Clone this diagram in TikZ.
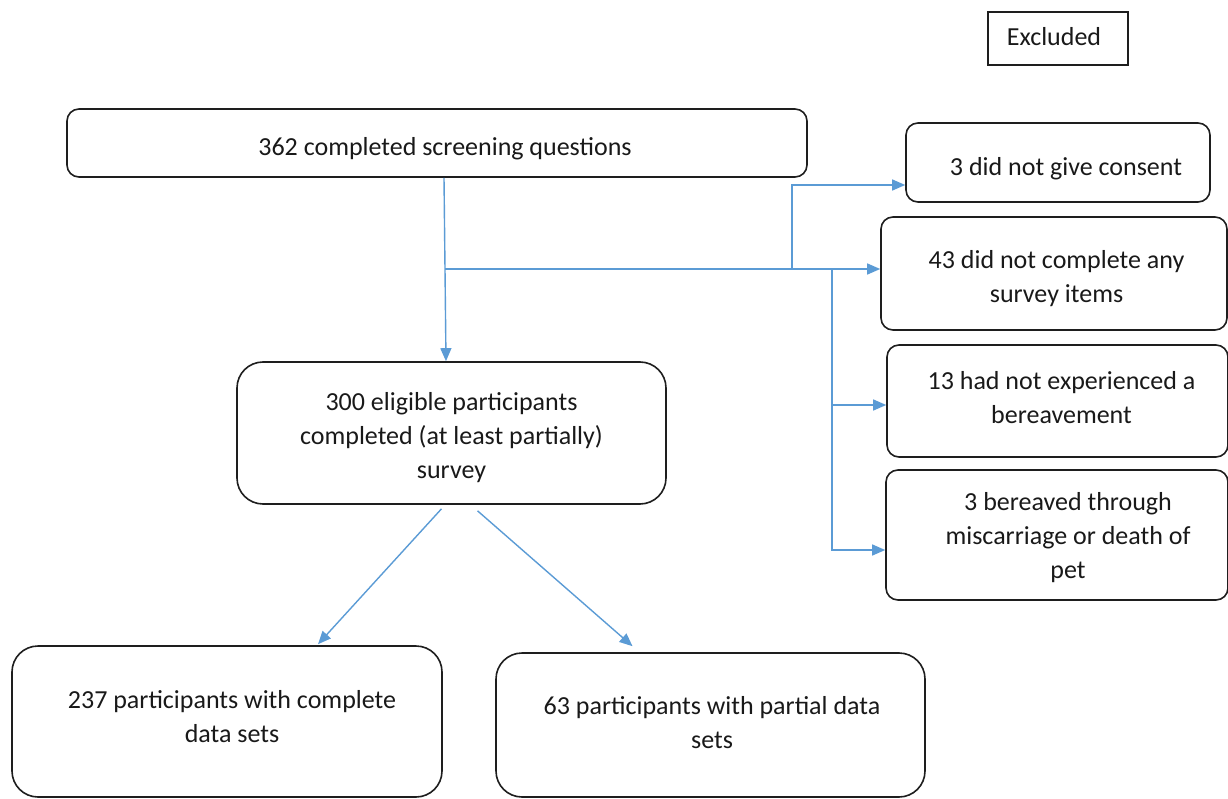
\documentclass[tikz,border=0pt]{standalone}
\usepackage{fontspec}
\setmainfont{Carlito}
\usetikzlibrary{arrows.meta,calc}
\definecolor{linkblue}{RGB}{91,155,213}
\definecolor{boxline}{RGB}{30,30,30}
\begin{document}
\begin{tikzpicture}[x=1pt,y=-1pt,
  rbox/.style={draw=boxline, line width=1.6pt, rounded corners=12pt, inner sep=0pt},
  bigbox/.style={rbox, rounded corners=26pt},
  sqbox/.style={draw=boxline, line width=1.3pt, inner sep=0pt},
  txt/.style={align=center, font=\fontsize{26}{34}\selectfont, inner sep=0pt, text=black!90},
  link/.style={draw=linkblue, line width=1.4pt},
  conn/.style={link, -{Triangle[length=13pt,width=11pt]}}
]
\useasboundingbox (0,0) rectangle (1228,799);

% boxes
\node[sqbox, minimum width=140pt, minimum height=53pt] (excl) at (1058,38.5) {};
\node[rbox, minimum width=740pt, minimum height=68pt] (top) at (437,143) {};
\node[rbox, minimum width=304pt, minimum height=79pt] (r1) at (1058,162.5) {};
\node[rbox, minimum width=346pt, minimum height=113pt] (r2) at (1054,273.5) {};
\node[rbox, minimum width=341pt, minimum height=112pt] (r3) at (1057.5,401) {};
\node[rbox, minimum width=342pt, minimum height=130pt] (r4) at (1057,535) {};
\node[bigbox, minimum width=429pt, minimum height=142pt] (elig) at (451.5,433) {};
\node[bigbox, minimum width=430pt, minimum height=151pt] (c1) at (227,721.5) {};
\node[bigbox, minimum width=429pt, minimum height=144pt] (c2) at (710.5,725) {};

% texts
\node[txt] (exclt) at ([xshift=-4pt,yshift=2pt]excl.center) {Excluded};
\node[txt] (topt) at ([xshift=8pt,yshift=-6pt]top.center) {362 completed screening questions};
\node[txt] (r1t) at ([xshift=8pt,yshift=-6pt]r1.center) {3 did not give consent};
\node[txt] (r2t) at ([xshift=2.5pt,yshift=-5pt]r2.center) {43 did not complete any\\survey items};
\node[txt] (r3t) at ([xshift=4pt,yshift=3pt]r3.center) {13 had not experienced a\\bereavement};
\node[txt] (r4t) at ([xshift=11pt,yshift=-3pt]r4.center) {3 bereaved through\\miscarriage or death of\\pet};
\node[txt] (eligt) at ([yshift=-5pt]elig.center) {300 eligible participants\\completed (at least partially)\\survey};
\node[txt] (c1t) at ([xshift=5pt,yshift=5pt]c1.center) {237 participants with complete\\data sets};
\node[txt] (c2t) at ([xshift=1.5pt,yshift=2pt]c2.center) {63 participants with partial data\\sets};

% connectors
\coordinate (j1) at (445,269);
\coordinate (j2) at (792,270);
\coordinate (j3) at (832,270);
\coordinate (b1) at (792,185);
\coordinate (b3) at (832,405);
\coordinate (b4) at (832,550);

\draw[conn] ([xshift=7pt]top.south) -- ([xshift=-5.5pt]elig.north);
\draw[conn] (j1) -- (j1 -| r2.west);
\draw[conn] (j2) -- (b1) -- (b1 -| r1.west);
\draw[conn] (j3) -- (b4) -- (b4 -| r4.west);
\draw[conn] (b3) -- (b3 -| r3.west);

\draw[conn] ([xshift=-10pt,yshift=-4pt]elig.south) -- ([xshift=91pt,yshift=1pt]c1.north);
\draw[conn] ([xshift=26pt,yshift=-6pt]elig.south) -- ([xshift=-78pt,yshift=6pt]c2.north);
\end{tikzpicture}
\end{document}
